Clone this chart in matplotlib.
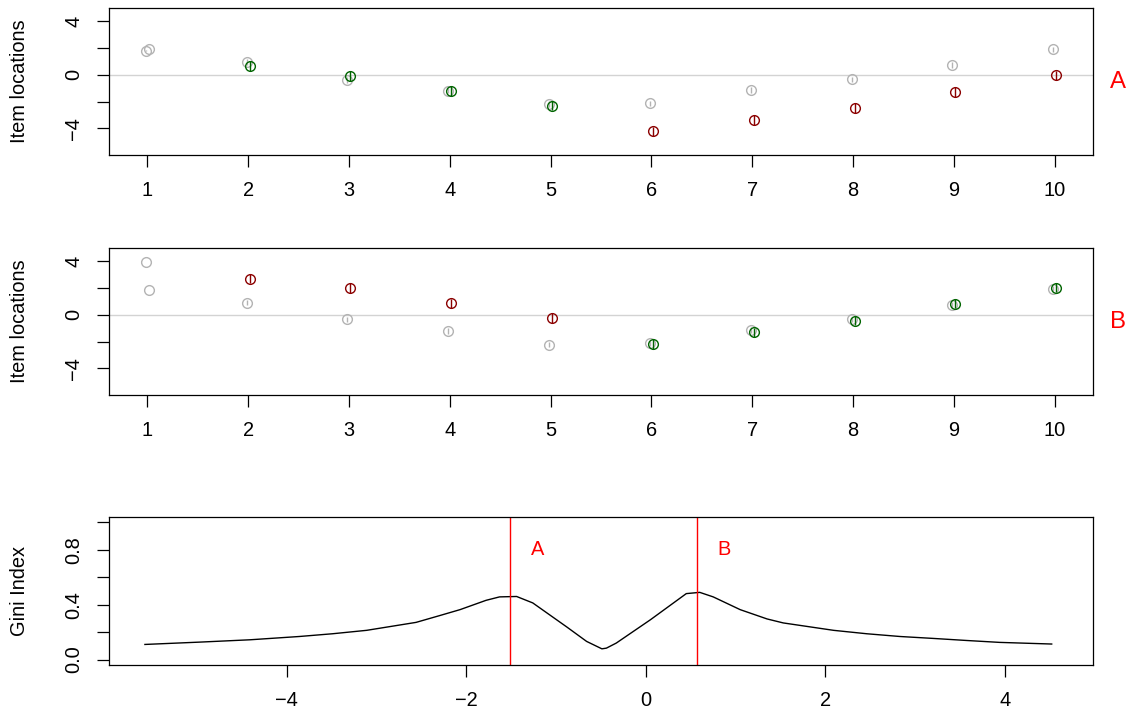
import numpy as np
import matplotlib
matplotlib.use('Agg')
import matplotlib.pyplot as plt

plt.rcParams['font.family'] = ['Liberation Sans', 'DejaVu Sans']
plt.rcParams['font.size'] = 14.4

# item locations
items = [1, 2, 3, 4, 5, 6, 7, 8, 9, 10]

grey_a = [1.8, 0.95, -0.38, -1.18, -2.18, -2.13, -1.13, -0.33, 0.73, 1.9]
col_a = [1.93, 0.65, -0.08, -1.2, -2.3, -4.23, -3.38, -2.48, -1.28, -0.05]
grp_a = ['anchor', 'low', 'low', 'low', 'low', 'high', 'high', 'high', 'high', 'high']

grey_b = [3.95, 0.9, -0.35, -1.2, -2.23, -2.13, -1.13, -0.33, 0.73, 1.95]
col_b = [1.85, 2.7, 2.0, 0.87, -0.23, -2.18, -1.3, -0.43, 0.83, 2.03]
grp_b = ['anchor', 'high', 'high', 'high', 'high', 'low', 'low', 'low', 'low', 'low']

grey_se = [0.03, 0.2, 0.2, 0.2, 0.2, 0.2, 0.2, 0.2, 0.2, 0.2]
col_se = [0.03, 0.35, 0.35, 0.35, 0.35, 0.35, 0.35, 0.35, 0.35, 0.35]

# gini curve
gini_x = [-5.58, -4.97, -4.41, -3.86, -3.49, -3.11, -2.56, -2.3, -2.07, -1.78,
          -1.63, -1.44, -1.26, -0.88, -0.66, -0.49, -0.44, -0.33, 0.05, 0.45,
          0.6, 0.75, 1.05, 1.35, 1.53, 2.09, 2.46, 2.83, 3.2, 3.57, 3.94, 4.52]
gini_y = [0.11, 0.127, 0.144, 0.168, 0.188, 0.213, 0.271, 0.32, 0.364, 0.432,
          0.457, 0.46, 0.413, 0.237, 0.132, 0.078, 0.083, 0.12, 0.29, 0.481,
          0.49, 0.457, 0.364, 0.296, 0.267, 0.213, 0.188, 0.168, 0.154, 0.139,
          0.125, 0.113]
cuts = [-1.51, 0.57]
cut_names = ['A', 'B']

colours = {'anchor': '#B3B3B3', 'low': 'darkgreen', 'high': 'darkred'}
grey = '#B3B3B3'

W, H = 1131, 716
fig = plt.figure(figsize=(W / 100, H / 100), dpi=100)


def box(top, bottom):
    return [109 / W, 1 - bottom / H, 984 / W, (bottom - top) / H]


def style(ax):
    for s in ax.spines.values():
        s.set_linewidth(0.9)
    ax.tick_params(length=8.6, width=0.9, pad=10)
    ax.tick_params(axis='y', labelrotation=90)
    for lab in ax.get_yticklabels():
        lab.set_va('center')


def items_panel(ax, grey_vals, col_vals, grps):
    ax.axhline(0, color='lightgrey', lw=1, zorder=1)
    for i in range(len(items)):
        x = items[i]
        c = colours[grps[i]]
        ax.vlines(x - 0.015, grey_vals[i] - grey_se[i], grey_vals[i] + grey_se[i], color=grey, lw=1)
        ax.plot(x - 0.015, grey_vals[i], 'o', mfc='none', mec=grey, ms=7, mew=1)
        ax.vlines(x + 0.015, col_vals[i] - col_se[i], col_vals[i] + col_se[i], color=c, lw=1)
        ax.plot(x + 0.015, col_vals[i], 'o', mfc='none', mec=c, ms=7, mew=1)
    ax.set_xlim(0.62, 10.38)
    ax.set_ylim(-6, 5)
    ax.set_xticks(items)
    ax.set_xticklabels([str(i) for i in items])
    ax.set_yticks([-4, -2, 0, 2, 4])
    ax.set_yticklabels(['\u22124', '', '0', '', '4'])
    ax.set_ylabel('Item locations', va='center')
    ax.yaxis.set_label_coords((20 - 109) / 984, 0.5)
    style(ax)


ax1 = fig.add_axes(box(8, 155))
items_panel(ax1, grey_a, col_a, grp_a)
fig.text(1118 / W, 1 - 81.5 / H, 'A', color='red', fontsize=17.3, ha='center', va='center')

ax2 = fig.add_axes(box(248, 395))
items_panel(ax2, grey_b, col_b, grp_b)
fig.text(1118 / W, 1 - 321.5 / H, 'B', color='red', fontsize=17.3, ha='center', va='center')

ax3 = fig.add_axes(box(517, 665))
ax3.plot(gini_x, gini_y, color='black', lw=1)
for cx, nm in zip(cuts, cut_names):
    ax3.axvline(cx, color='red', lw=1)
    ax3.text(cx + 0.3, 0.8, nm, color='red', ha='center', va='center')
ax3.set_xlim(-5.98, 4.98)
ax3.set_ylim(-0.04, 1.04)
ax3.set_xticks([-4, -2, 0, 2, 4])
ax3.set_xticklabels(['\u22124', '\u22122', '0', '2', '4'])
ax3.set_yticks([0, 0.2, 0.4, 0.6, 0.8, 1.0])
ax3.set_yticklabels(['0.0', '', '0.4', '', '0.8', ''])
ax3.set_ylabel('Gini Index', va='center')
ax3.yaxis.set_label_coords((20 - 109) / 984, 0.5)
style(ax3)

fig.savefig('out.png', dpi=100)
